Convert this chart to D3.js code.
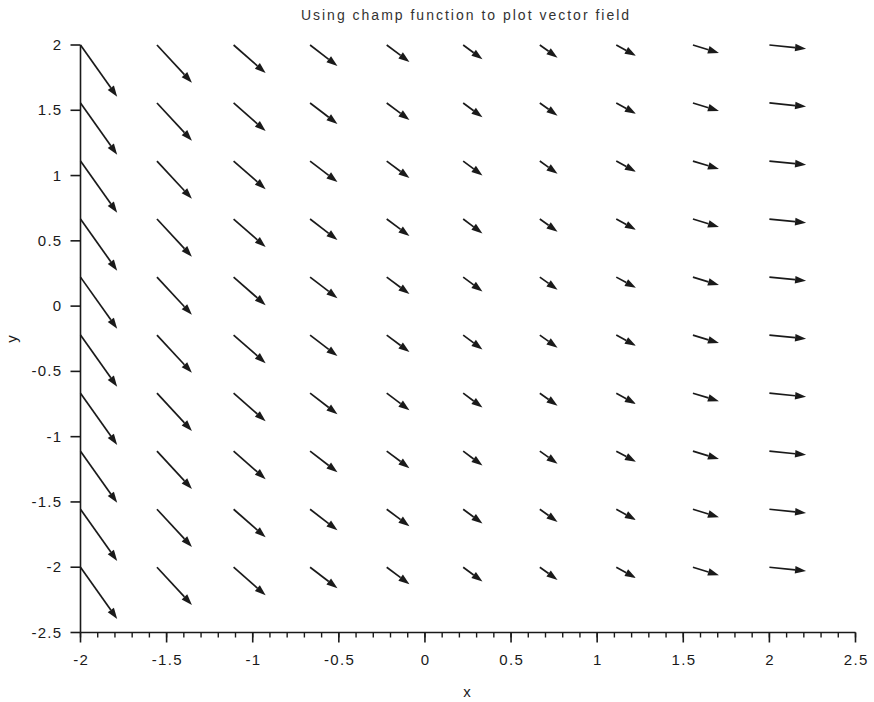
<!DOCTYPE html>
<html>
<head>
<meta charset="utf-8">
<script src="https://cdn.jsdelivr.net/npm/d3@7"></script>
<style>
  body { margin: 0; background: #fff; }
  svg { display: block; font-family: "Liberation Sans", Arial, sans-serif; }
</style>
</head>
<body>
<svg width="874" height="702"></svg>
<script>
// grid positions (x and y both sampled at the same 10 points)
var gridX = [-2, -1.556, -1.111, -0.667, -0.222, 0.222, 0.667, 1.111, 1.556, 2];
var gridY = [-2, -1.556, -1.111, -0.667, -0.222, 0.222, 0.667, 1.111, 1.556, 2];
// arrow extents per column (data units), same for every row
var vecU = [0.213, 0.203, 0.186, 0.159, 0.132, 0.112, 0.103, 0.114, 0.151, 0.213];
var vecV = [-0.396, -0.289, -0.215, -0.161, -0.130, -0.110, -0.097, -0.082, -0.061, -0.028];

var xTicks = [-2, -1.5, -1, -0.5, 0, 0.5, 1, 1.5, 2, 2.5];
var yTicks = [-2.5, -2, -1.5, -1, -0.5, 0, 0.5, 1, 1.5, 2];

var svg = d3.select("svg");
var ink = "#1a1a1a";

var x = d3.scaleLinear().domain([-2, 2.5]).range([80.5, 855.5]);
var y = d3.scaleLinear().domain([-2.5, 2]).range([632.5, 45]);

svg.append("text")
  .attr("x", 466).attr("y", 19.5)
  .attr("text-anchor", "middle")
  .style("font-size", "14px")
  .style("letter-spacing", "2px")
  .style("fill", "#333")
  .text("Using champ function to plot vector field");

// build arrows from the arrays
var arrows = [];
gridY.forEach(function(yv) {
  gridX.forEach(function(xv, i) {
    arrows.push({x0: xv, y0: yv, x1: xv + vecU[i], y1: yv + vecV[i]});
  });
});

var field = svg.append("g");
arrows.forEach(function(d) {
  var px0 = x(d.x0), py0 = y(d.y0), px1 = x(d.x1), py1 = y(d.y1);
  var ang = Math.atan2(py1 - py0, px1 - px0);
  var hl = 11, hw = 3.8;
  var bx = px1 - hl * Math.cos(ang), by = py1 - hl * Math.sin(ang);
  field.append("line")
    .attr("x1", px0).attr("y1", py0)
    .attr("x2", bx).attr("y2", by)
    .style("stroke", ink)
    .style("stroke-width", 1.7);
  var pts = [
    [px1, py1],
    [bx + hw * Math.sin(ang), by - hw * Math.cos(ang)],
    [bx - hw * Math.sin(ang), by + hw * Math.cos(ang)]
  ];
  field.append("polygon")
    .attr("points", pts.map(function(p) { return p.join(","); }).join(" "))
    .style("fill", ink);
});

// x axis with minor ticks
var xMinor = d3.range(-2, 2.5001, 0.1);
var gx = svg.append("g");
gx.append("line")
  .attr("x1", x(-2)).attr("x2", x(2.5))
  .attr("y1", y(-2.5)).attr("y2", y(-2.5))
  .style("stroke", ink).style("stroke-width", 1.6);
gx.selectAll(".minor").data(xMinor).enter().append("line")
  .attr("x1", function(d) { return x(d); }).attr("x2", function(d) { return x(d); })
  .attr("y1", y(-2.5)).attr("y2", y(-2.5) + 5)
  .style("stroke", ink).style("stroke-width", 1.4);
gx.selectAll(".major").data(xTicks).enter().append("line")
  .attr("x1", function(d) { return x(d); }).attr("x2", function(d) { return x(d); })
  .attr("y1", y(-2.5)).attr("y2", y(-2.5) + 10)
  .style("stroke", ink).style("stroke-width", 1.6);
gx.selectAll("text").data(xTicks).enter().append("text")
  .attr("x", function(d) { return x(d) + 0.7; })
  .attr("y", 665)
  .attr("text-anchor", "middle")
  .style("font-size", "15px")
  .style("letter-spacing", "1.3px")
  .style("fill", ink)
  .text(function(d) { return d; });

// y axis
var gy = svg.append("g");
gy.append("line")
  .attr("x1", x(-2)).attr("x2", x(-2))
  .attr("y1", y(2)).attr("y2", y(-2.5))
  .style("stroke", ink).style("stroke-width", 1.6);
gy.selectAll(".major").data(yTicks).enter().append("line")
  .attr("x1", x(-2) - 10).attr("x2", x(-2))
  .attr("y1", function(d) { return y(d); }).attr("y2", function(d) { return y(d); })
  .style("stroke", ink).style("stroke-width", 1.6);
gy.selectAll("text").data(yTicks).enter().append("text")
  .attr("x", 62.5)
  .attr("y", function(d) { return y(d) + 5; })
  .attr("text-anchor", "end")
  .style("font-size", "15px")
  .style("letter-spacing", "1.3px")
  .style("fill", ink)
  .text(function(d) { return d; });

svg.append("text")
  .attr("x", 467).attr("y", 697)
  .attr("text-anchor", "middle")
  .style("font-size", "15px")
  .style("fill", ink)
  .text("x");

svg.append("text")
  .attr("transform", "translate(17,339) rotate(-90)")
  .attr("text-anchor", "middle")
  .style("font-size", "15px")
  .style("fill", ink)
  .text("y");
</script>
</body>
</html>
